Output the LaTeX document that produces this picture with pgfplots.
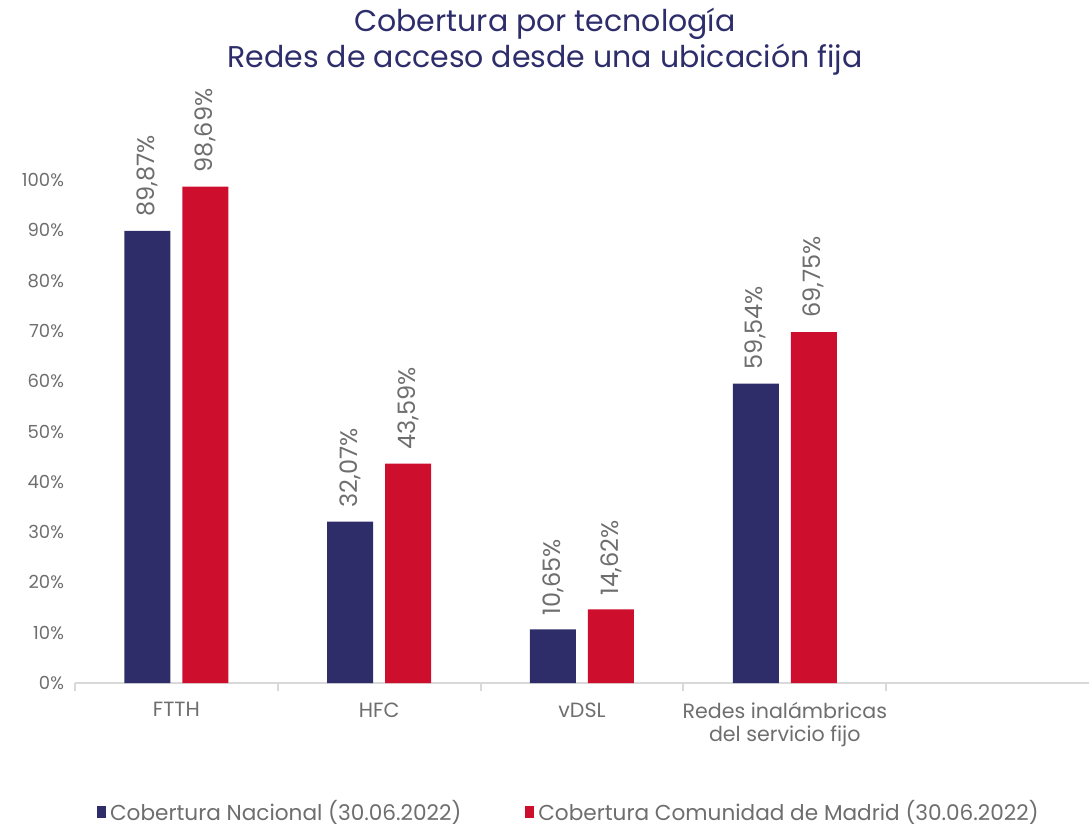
\documentclass[border=0pt]{standalone}
\usepackage{pgfplots}
\pgfplotsset{compat=1.18}
\usepackage{fontspec}
\setmainfont{Poppins}
\definecolor{navy}{HTML}{2F2D69}
\definecolor{rojo}{HTML}{CE0E2D}
\definecolor{txt}{HTML}{6E6E6E}
\definecolor{axisgray}{HTML}{D9D9D9}
\definecolor{titlec}{HTML}{2E2D6B}
\begin{document}
\begin{tikzpicture}
\begin{axis}[
  at={(0,0)}, anchor=south west,
  scale only axis,
  width=507pt, height=251.5pt,
  ymin=0, ymax=100,
  xmin=-0.5, xmax=4.5,
  clip=false,
  ybar=6pt, bar width=23pt,
  axis y line=none,
  axis x line*=bottom,
  axis line style={axisgray, line width=1pt},
  xtick={0,1,2,3},
  xticklabels={FTTH, HFC, vDSL, {Redes inalámbricas\\del servicio fijo}},
  xticklabel style={align=center, text=txt, font=\fontsize{10.3}{11.5}\selectfont, yshift=-2pt},
  major x tick style={draw=none},
  minor xtick={-0.5,0.5,1.5,2.5,3.5},
  minor x tick style={axisgray, line width=1pt},
  minor tick length=4pt,
  tick align=outside,
  tick pos=lower,
  /pgf/number format/assume math mode=true,
  legend style={at={(0.488,-0.2565)}, anchor=center, draw=none, legend columns=2,
    font=\fontsize{10.8}{12}\selectfont, text=txt,
    /tikz/every even column/.append style={column sep=30pt}},
  legend image code/.code={\fill[#1] (0pt,-3pt) rectangle (4.5pt,3pt);},
  nodes near coords={\pgfmathprintnumber[fixed,fixed zerofill,precision=2,use comma,assume math mode=true]{\pgfplotspointmeta}\%},
  nodes near coords style={rotate=90, anchor=west, text=txt, font=\fontsize{12}{12}\selectfont, inner xsep=7pt},
]
\addplot[fill=navy, draw=none] coordinates {(0,89.87) (1,32.07) (2,10.65) (3,59.54)};
\addplot[fill=rojo, draw=none] coordinates {(0,98.69) (1,43.59) (2,14.62) (3,69.75)};
\legend{Cobertura Nacional (30.06.2022), Cobertura Comunidad de Madrid (30.06.2022)}
\node[align=center, text=titlec, font=\fontsize{15}{18}\selectfont, anchor=south] at (rel axis cs:0.4635,1.194) {Cobertura por tecnología\\Redes de acceso desde una ubicación fija};
\end{axis}
\begin{axis}[
  at={(0,0)}, anchor=south west,
  scale only axis,
  width=507pt, height=251.5pt,
  ymin=0, ymax=100,
  xmin=-0.5, xmax=4.5,
  axis x line=none,
  axis y line*=left,
  y axis line style={draw=none},
  ytick={0,10,...,100},
  major y tick style={draw=none},
  /pgf/number format/assume math mode=true,
  yticklabel={\pgfmathprintnumber{\tick}\%},
  yticklabel style={text=txt, font=\fontsize{9}{10}\selectfont, xshift=-2pt},
]
\end{axis}
\pgfresetboundingbox
\path (-37.5pt,-72pt) rectangle (507pt,341.5pt);
\end{tikzpicture}
\end{document}
